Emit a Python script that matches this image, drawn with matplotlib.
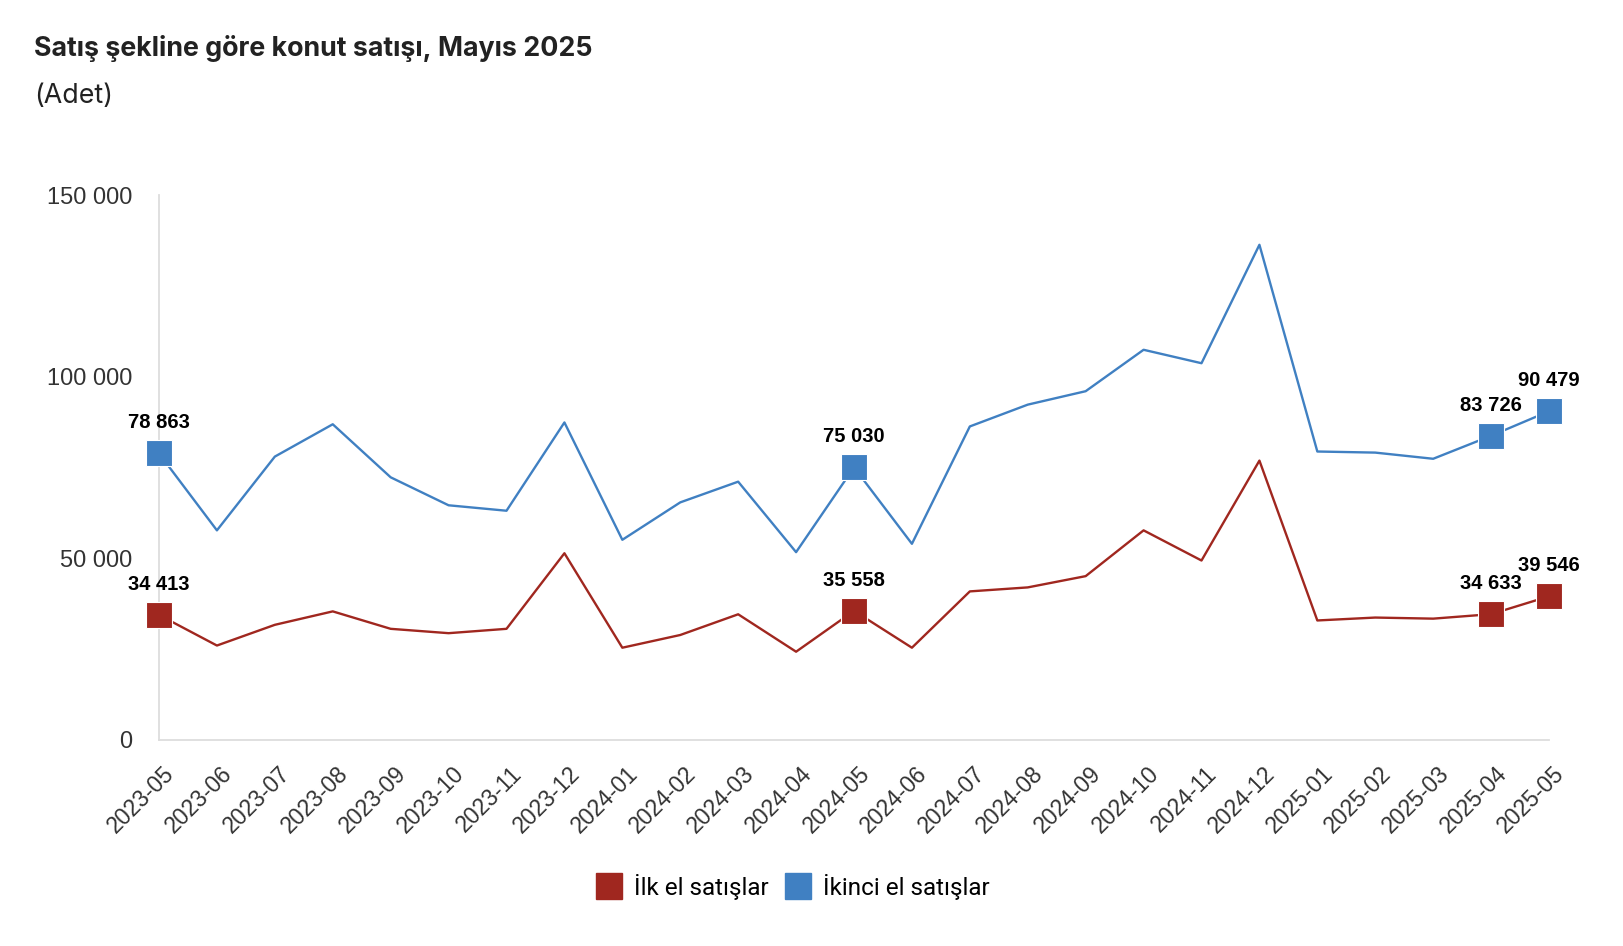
import matplotlib.pyplot as plt
from matplotlib.lines import Line2D
from matplotlib.transforms import ScaledTranslation

MONTHS = ['2023-05', '2023-06', '2023-07', '2023-08', '2023-09', '2023-10', '2023-11', '2023-12',
          '2024-01', '2024-02', '2024-03', '2024-04', '2024-05', '2024-06', '2024-07', '2024-08',
          '2024-09', '2024-10', '2024-11', '2024-12', '2025-01', '2025-02', '2025-03', '2025-04',
          '2025-05']
FIRST_HAND = [34413, 26000, 31700, 35400, 30600, 29400, 30600, 51400,
              25400, 28900, 34600, 24300, 35558, 25400, 40900, 42000,
              45100, 57700, 49400, 76900, 32900, 33700, 33400, 34633,
              39546]
SECOND_HAND = [78863, 57700, 78000, 86900, 72300, 64600, 63100, 87400,
               55100, 65400, 71100, 51700, 75030, 54000, 86300, 92300,
               96000, 107400, 103700, 136300, 79400, 79100, 77400, 83726,
               90479]
HIGHLIGHT = ['2023-05', '2024-05', '2025-04', '2025-05']
SERIES_NAMES = ['İlk el satışlar', 'İkinci el satışlar']

RED = '#a0271f'
BLUE = '#4080c2'
W, H = 1624, 946


def fmt(v):
    return '{:,}'.format(v).replace(',', ' ')


def draw_plot():
    fig = plt.figure(figsize=(W / 100, H / 100), dpi=100)
    ax = fig.add_axes([159 / W, 1 - 740 / H, (1549 - 159) / W, (740 - 195) / H])

    x = list(range(len(MONTHS)))
    for vals, color in [(FIRST_HAND, RED), (SECOND_HAND, BLUE)]:
        ax.plot(x, vals, color=color, lw=1.7, zorder=3)
        idx = [MONTHS.index(m) for m in HIGHLIGHT]
        ax.plot(idx, [vals[i] for i in idx], ls='none', marker='s', ms=19,
                color=color, markeredgecolor='white', markeredgewidth=0.8, clip_on=False, zorder=4)
        for i in idx:
            ax.annotate(fmt(vals[i]), (i, vals[i]), xytext=(0, 22), textcoords='offset points',
                        ha='center', va='center', fontsize=14.5, fontweight='bold',
                        family='Liberation Sans', color='black', annotation_clip=False)

    ax.set_xlim(0, len(MONTHS) - 1)
    ax.set_ylim(0, 150000)
    ax.set_yticks([0, 50000, 100000, 150000])
    ax.set_yticklabels([fmt(v) for v in [0, 50000, 100000, 150000]])
    ax.set_xticks(x)
    ax.set_xticklabels(MONTHS, rotation=45, ha='right', va='center', rotation_mode='anchor')
    ax.tick_params(length=0, colors='#333333')
    ax.tick_params(axis='y', labelsize=17, pad=19)
    ax.tick_params(axis='x', labelsize=16.5, pad=22)
    shift = ScaledTranslation(0.12, 0, fig.dpi_scale_trans)
    for lab in ax.get_xticklabels():
        lab.set_family('Liberation Sans')
        lab.set_transform(lab.get_transform() + shift)
    for lab in ax.get_yticklabels():
        lab.set_family('Liberation Sans')
    for s in ['top', 'right']:
        ax.spines[s].set_visible(False)
    for s in ['left', 'bottom']:
        ax.spines[s].set_color('#dddddd')
        ax.spines[s].set_linewidth(1.3)

    fig.text(34 / W, 1 - 48 / H, 'Satış şekline göre konut satışı, Mayıs 2025', fontsize=19.3,
             fontweight='bold', family='Inter', color='#222222', va='center')
    fig.text(34 / W, 1 - 96 / H, '(Adet)', fontsize=19.3, family='Inter', color='#222222', va='center')

    handles = [Line2D([], [], ls='none', marker='s', ms=19, color=RED),
               Line2D([], [], ls='none', marker='s', ms=19, color=BLUE)]
    fig.legend(handles, SERIES_NAMES, loc='center', bbox_to_anchor=(792 / W, 1 - 887 / H),
               ncol=2, frameon=False, prop={'family': 'Roboto', 'size': 17.5},
               handletextpad=0.45, columnspacing=0.6, handlelength=1.2)

    fig.savefig('out.png', dpi=100, facecolor='white')


if __name__ == '__main__':
    draw_plot()
